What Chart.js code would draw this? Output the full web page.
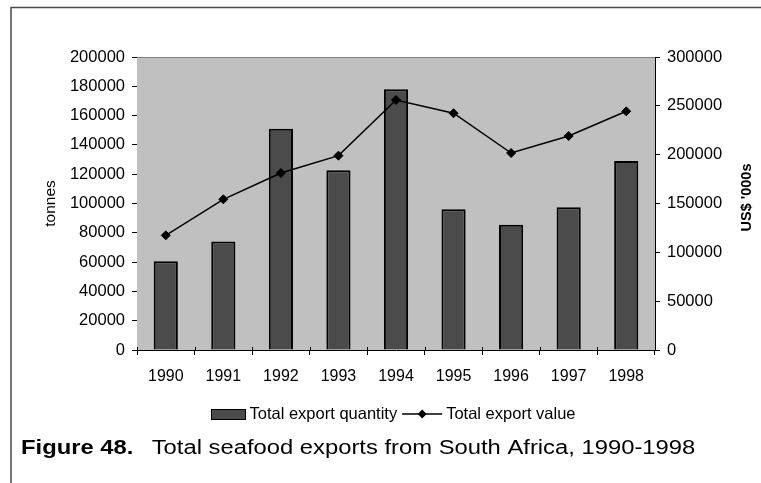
<!DOCTYPE html>
<html>
<head>
<meta charset="utf-8">
<script src="https://cdn.jsdelivr.net/npm/chart.js@4"></script>
<style>
  html, body { margin: 0; padding: 0; background: #ffffff; }
  #wrap { width: 761px; height: 483px; position: relative; }
</style>
</head>
<body>
<div id="wrap"><canvas id="c" width="761" height="483"></canvas></div>
<script>
const years = ['1990', '1991', '1992', '1993', '1994', '1995', '1996', '1997', '1998'];
const exportQuantity = [60500, 74000, 151000, 122700, 178000, 96000, 85500, 97400, 129000];
const exportValue = [117400, 154300, 181200, 199000, 256000, 242400, 201700, 219100, 244400];
const quantityLabel = 'Total export quantity';
const valueLabel = 'Total export value';
const leftAxisTitle = 'tonnes';
const rightAxisTitle = "US$ '000s";
const figureBold = 'Figure 48.';
const figureText = 'Total seafood exports from South Africa, 1990-1998';

const FONT = "'Liberation Sans', Arial, sans-serif";
const plainNumber = v => String(v);

const decor = {
  id: 'decor',
  beforeDatasetsDraw(chart) {
    const {ctx, chartArea: a} = chart;
    ctx.save();
    ctx.fillStyle = '#c0c0c0';
    ctx.fillRect(a.left, a.top, a.right - a.left, a.bottom - a.top);
    ctx.strokeStyle = '#808080';
    ctx.lineWidth = 1;
    ctx.beginPath();
    ctx.moveTo(a.left, a.top + 0.5);
    ctx.lineTo(a.right, a.top + 0.5);
    ctx.stroke();
    const xs = chart.scales.x;
    ctx.strokeStyle = '#000';
    ctx.beginPath();
    for (let i = 0; i <= years.length; i++) {
      const px = Math.round(xs.getPixelForValue(i - 0.5)) + 0.5;
      ctx.moveTo(px, a.bottom - 3);
      ctx.lineTo(px, a.bottom);
    }
    ctx.stroke();
    ctx.restore();
  },
  afterDraw(chart) {
    const {ctx} = chart;
    ctx.save();
    ctx.strokeStyle = '#4a4a4a';
    ctx.lineWidth = 1.5;
    ctx.beginPath();
    ctx.moveTo(11, 483);
    ctx.lineTo(11, 7.5);
    ctx.lineTo(761, 7.5);
    ctx.stroke();

    ctx.fillStyle = '#000';
    ctx.font = 'bold 14.5px ' + FONT;
    ctx.textAlign = 'center';
    ctx.textBaseline = 'middle';
    ctx.translate(746.5, 197.5);
    ctx.rotate(-Math.PI / 2);
    ctx.fillText(rightAxisTitle, 0, 0);
    ctx.setTransform(1, 0, 0, 1, 0, 0);

    const ly = 414;
    ctx.font = '16.5px ' + FONT;
    ctx.textAlign = 'left';
    ctx.textBaseline = 'middle';
    ctx.fillStyle = '#4b4b4b';
    ctx.fillRect(211.5, 409.5, 34, 10);
    ctx.strokeStyle = '#000';
    ctx.lineWidth = 1;
    ctx.strokeRect(211.5, 409.5, 34, 10);
    ctx.fillStyle = '#000';
    ctx.fillText(quantityLabel, 249.5, ly);
    const w1 = ctx.measureText(quantityLabel).width;
    const ls = 249.5 + w1 + 5;
    ctx.lineWidth = 1.5;
    ctx.beginPath();
    ctx.moveTo(ls, ly);
    ctx.lineTo(ls + 40, ly);
    ctx.stroke();
    const dc = ls + 20;
    ctx.beginPath();
    ctx.moveTo(dc, ly - 4.5);
    ctx.lineTo(dc + 4.5, ly);
    ctx.lineTo(dc, ly + 4.5);
    ctx.lineTo(dc - 4.5, ly);
    ctx.closePath();
    ctx.fill();
    ctx.fillText(valueLabel, ls + 44, ly);

    ctx.textBaseline = 'alphabetic';
    ctx.translate(21, 453.5);
    ctx.scale(1.22, 1);
    ctx.font = 'bold 19.5px ' + FONT;
    ctx.fillText(figureBold, 0, 0);
    ctx.font = '19.5px ' + FONT;
    ctx.fillText(figureText, (151.7 - 21) / 1.22, 0);
    ctx.restore();
  }
};

new Chart(document.getElementById('c'), {
  data: {
    labels: years,
    datasets: [
      {
        type: 'line',
        label: valueLabel,
        data: exportValue,
        yAxisID: 'y1',
        borderColor: '#000',
        borderWidth: 1.5,
        pointStyle: 'rectRot',
        pointRadius: 4.5,
        pointBackgroundColor: '#000',
        pointBorderColor: '#000',
        pointBorderWidth: 1,
        tension: 0,
        order: 1
      },
      {
        type: 'bar',
        label: quantityLabel,
        data: exportQuantity,
        yAxisID: 'y',
        backgroundColor: '#4b4b4b',
        borderColor: '#000',
        borderWidth: 2,
        barPercentage: 0.42,
        categoryPercentage: 1,
        order: 2
      }
    ]
  },
  options: {
    responsive: false,
    animation: false,
    devicePixelRatio: 1,
    layout: { padding: { left: 41, right: 0, top: 57, bottom: 0 } },
    plugins: {
      legend: { display: false },
      title: { display: false },
      tooltip: { enabled: false }
    },
    scales: {
      x: {
        type: 'category',
        offset: true,
        grid: { display: true, drawOnChartArea: false, offset: true, tickLength: 5, color: '#000', lineWidth: 1 },
        border: { display: true, color: '#000', width: 1 },
        ticks: { color: '#000', font: { family: FONT, size: 16 }, padding: 12, autoSkip: false, maxRotation: 0 },
        afterFit(s) { s.height = 133; }
      },
      y: {
        position: 'left',
        min: 0,
        max: 200000,
        grid: { display: true, drawOnChartArea: false, tickLength: 5, color: '#000', lineWidth: 1 },
        border: { display: true, color: '#000', width: 1 },
        ticks: { stepSize: 20000, color: '#000', font: { family: FONT, size: 16.5 }, padding: 7, callback: plainNumber },
        title: { display: true, text: leftAxisTitle, color: '#000', font: { family: FONT, size: 15.5 }, padding: 0 },
        afterFit(s) { s.width = 96; }
      },
      y1: {
        position: 'right',
        min: 0,
        max: 300000,
        grid: { display: true, drawOnChartArea: false, tickLength: 5, color: '#000', lineWidth: 1 },
        border: { display: true, color: '#000', width: 1 },
        ticks: { stepSize: 50000, color: '#000', font: { family: FONT, size: 16.5 }, padding: 7, callback: plainNumber },
        afterFit(s) { s.width = 106; }
      }
    }
  },
  plugins: [decor]
});
</script>
</body>
</html>
